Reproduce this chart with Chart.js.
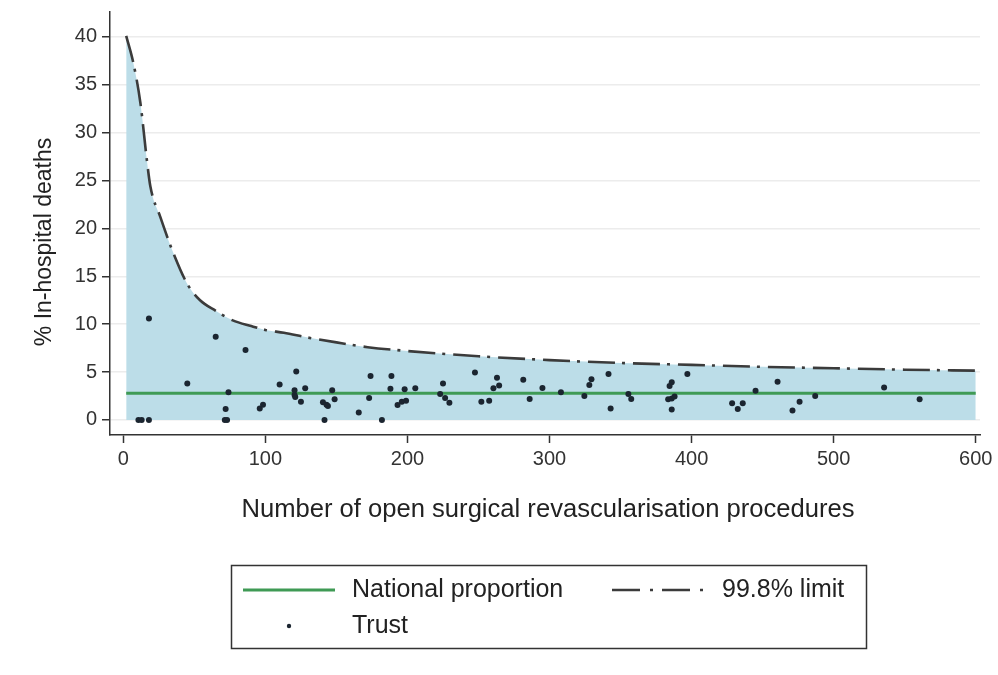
<!DOCTYPE html>
<html>
<head>
<meta charset="utf-8">
<title>In-hospital deaths funnel plot</title>
<script src="https://cdn.jsdelivr.net/npm/chart.js@4.4.1/dist/chart.umd.min.js"></script>
<style>
    html, body { margin: 0; padding: 0; background: #fff; }
    #wrap { width: 998px; height: 675px; }
</style>
</head>
<body>
<div id="wrap"><canvas id="funnelChart" width="998" height="675"></canvas></div>
<script>
// values

const trustProcedures = [
    18, 65, 86, 45, 74, 72, 10.6, 12.9, 18, 71.4, 73,
    96, 98.3, 110, 121.7, 120.5, 120.5, 121, 128, 125, 140.5, 143, 144, 141.6, 147, 148.7, 165.7, 173, 174, 182, 188.7, 188, 193,
    198, 196, 199, 205.5, 225, 223, 226.5, 229.5, 247.5, 252, 257.5, 260.5, 264.5, 263, 281.5, 286, 295,
    308, 324.5, 328, 329.5, 341.5, 343, 355.5, 357.5, 384.5, 386, 383.5, 386, 388, 386, 397,
    428.5, 432.5, 436, 445, 460.5, 471, 476, 487,
    535.5, 560.5
];
const trustDeathPct = [
    10.6, 8.7, 7.3, 3.8, 2.9, 1.15, 0, 0, 0, 0, 0,
    1.2, 1.6, 3.7, 5.05, 3.1, 2.6, 2.4, 3.3, 1.9, 1.85, 1.6, 1.45, 0, 3.1, 2.15, 0.77, 2.3, 4.6, 0, 4.6, 3.25, 1.55,
    3.2, 1.9, 2.0, 3.3, 3.8, 2.7, 2.3, 1.8, 4.95, 1.9, 2.0, 3.3, 3.6, 4.4, 4.2, 2.2, 3.35,
    2.9, 2.5, 3.65, 4.25, 4.8, 1.2, 2.7, 2.2, 3.55, 3.95, 2.15, 2.25, 2.45, 1.1, 4.8,
    1.75, 1.15, 1.75, 3.05, 4.0, 1.0, 1.9, 2.5,
    3.4, 2.15
];

const limitProcedures = [2, 7, 12, 16.5, 19, 26, 35, 45, 54, 65, 77, 90, 100, 113, 130, 150, 172, 200, 250, 300, 350, 400, 450, 500, 550, 600];
const limitPct = [40.1, 37.3, 33.1, 27.2, 24.4, 21.2, 17.5, 14.2, 12.5, 11.4, 10.4, 9.8, 9.4, 9.1, 8.6, 8.1, 7.6, 7.2, 6.65, 6.25, 5.95, 5.75, 5.55, 5.4, 5.25, 5.15];

const nationalProcedures = [2, 600];
const nationalPct = [2.8, 2.8];

const xTicks = [0, 100, 200, 300, 400, 500, 600];
const yTicks = [0, 5, 10, 15, 20, 25, 30, 35, 40];

const xTitle = "Number of open surgical revascularisation procedures";
const yTitle = "% In-hospital deaths";

const FONT = "'Liberation Sans', Arial, sans-serif";
const GREEN = "#3f9a55";
const DARK = "#3b3b3b";
const FILL = "#bcdde8";
const DOT = "#1b2530";

function toPoints(xs, ys) {
    return xs.map((x, i) => ({ x: x, y: ys[i] }));
}

// axis titles and the boxed legend underneath
const extrasPlugin = {
    id: "extras",
    afterDraw(chart) {
        const ctx = chart.ctx;
        const area = chart.chartArea;
        ctx.save();
        ctx.fillStyle = "#222";
        ctx.textAlign = "center";
        ctx.textBaseline = "middle";
        ctx.font = "25.6px " + FONT;
        ctx.fillText(xTitle, (area.left + area.right) / 2 + 3, 510);

        ctx.save();
        ctx.font = "23px " + FONT;
        ctx.translate(45, 242);
        ctx.rotate(-Math.PI / 2);
        ctx.fillText(yTitle, 0, 0);
        ctx.restore();

        // legend box
        ctx.strokeStyle = "#333";
        ctx.lineWidth = 1.5;
        ctx.strokeRect(231.5, 565.5, 635, 83);

        ctx.font = "25px " + FONT;
        ctx.textAlign = "left";
        ctx.fillText("National proportion", 352, 590);
        ctx.fillText("99.8% limit", 722, 590);
        ctx.fillText("Trust", 352, 626);

        ctx.strokeStyle = GREEN;
        ctx.lineWidth = 3;
        ctx.beginPath();
        ctx.moveTo(243, 590);
        ctx.lineTo(335, 590);
        ctx.stroke();

        ctx.strokeStyle = DARK;
        ctx.lineWidth = 2.6;
        ctx.setLineDash([28, 10, 3, 9]);
        ctx.beginPath();
        ctx.moveTo(612, 590);
        ctx.lineTo(704, 590);
        ctx.stroke();
        ctx.setLineDash([]);

        ctx.fillStyle = DOT;
        ctx.beginPath();
        ctx.arc(289, 626, 2.2, 0, Math.PI * 2);
        ctx.fill();
        ctx.restore();
    }
};

new Chart(document.getElementById("funnelChart"), {
    type: "scatter",
    data: {
        datasets: [
            {
                label: "Trust",
                data: toPoints(trustProcedures, trustDeathPct),
                pointRadius: 3,
                pointBackgroundColor: DOT,
                pointBorderWidth: 0,
                order: 1
            },
            {
                type: "line",
                label: "National proportion",
                data: toPoints(nationalProcedures, nationalPct),
                borderColor: GREEN,
                borderWidth: 3,
                pointRadius: 0,
                fill: false,
                order: 2
            },
            {
                type: "line",
                label: "99.8% limit",
                data: toPoints(limitProcedures, limitPct),
                borderColor: DARK,
                borderWidth: 2.6,
                borderDash: [27, 7, 3, 8],
                backgroundColor: FILL,
                fill: "origin",
                pointRadius: 0,
                cubicInterpolationMode: "monotone",
                order: 3
            }
        ]
    },
    options: {
        responsive: false,
        animation: false,
        layout: { padding: { left: 0, top: 12, right: 18, bottom: 200 } },
        plugins: {
            legend: { display: false },
            tooltip: { enabled: false }
        },
        scales: {
            x: {
                type: "linear",
                min: -9.4,
                max: 603,
                afterBuildTicks: (scale) => { scale.ticks = xTicks.map(v => ({ value: v })); },
                afterFit: (scale) => { scale.height = 40; scale.paddingLeft = 0; scale.paddingRight = 0; },
                grid: { drawOnChartArea: false, tickColor: "#333", tickLength: 8, tickWidth: 1.5 },
                border: { color: "#333", width: 1.5 },
                ticks: { color: "#333", padding: 4, maxRotation: 0, autoSkip: false, font: { family: FONT, size: 20 } }
            },
            y: {
                type: "linear",
                min: -1.57,
                max: 42.6,
                afterBuildTicks: (scale) => { scale.ticks = yTicks.map(v => ({ value: v })); },
                afterFit: (scale) => { scale.width = 110; scale.paddingTop = 0; scale.paddingBottom = 0; },
                grid: { color: "#ececec", lineWidth: 1.5, tickColor: "#333", tickLength: 8, tickWidth: 1.5 },
                border: { color: "#333", width: 1.5 },
                ticks: { color: "#333", padding: 5, font: { family: FONT, size: 20 } }
            }
        }
    },
    plugins: [extrasPlugin]
});
</script>
</body>
</html>
